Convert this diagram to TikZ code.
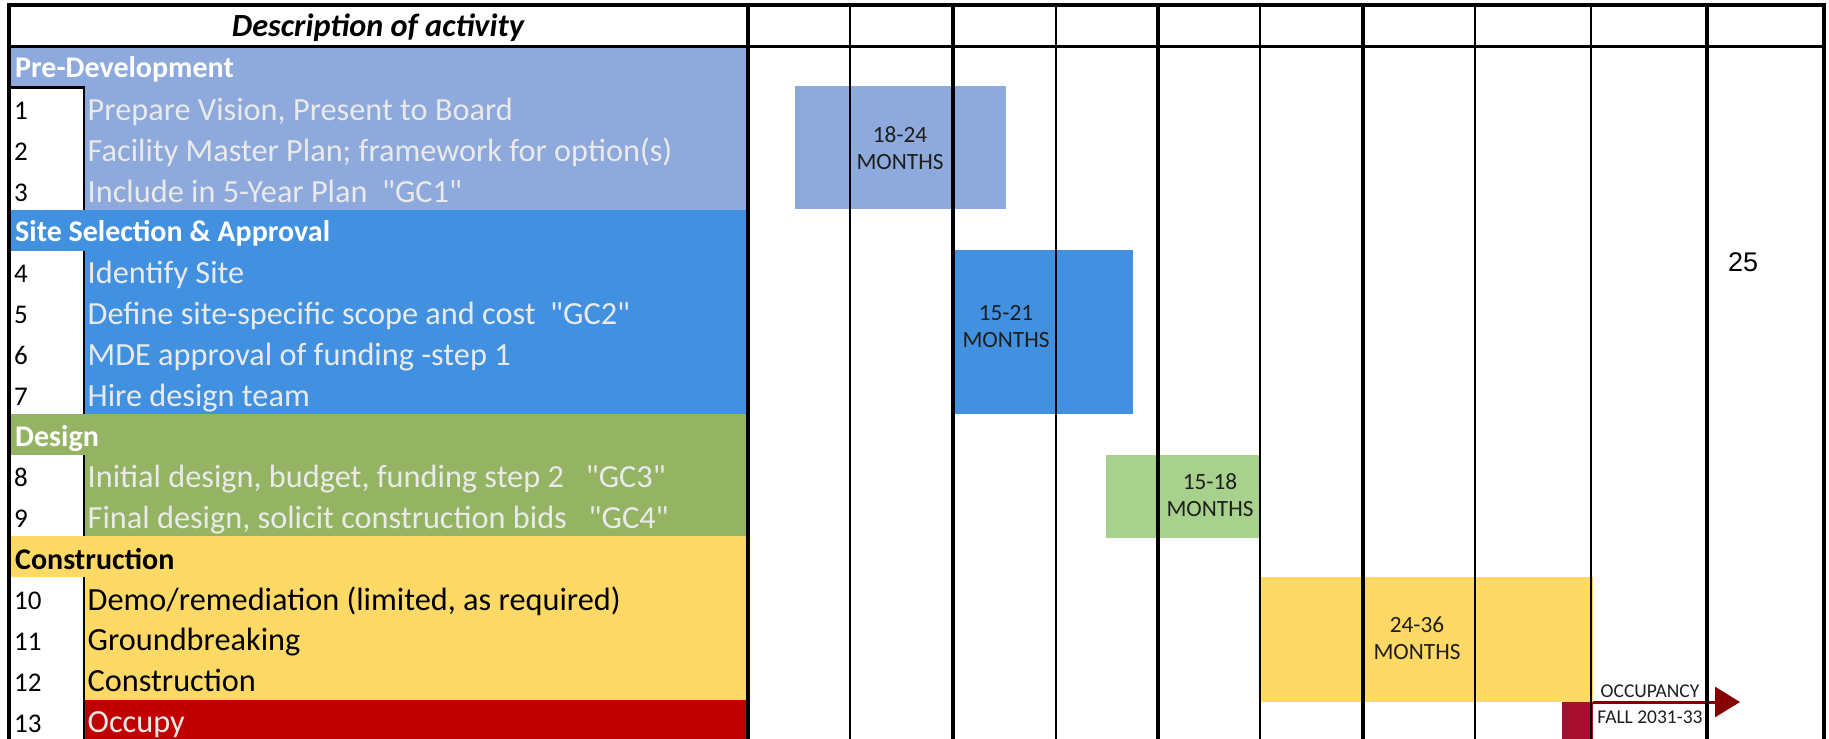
\documentclass[tikz,border=0pt]{standalone}
\usepackage{fontspec}
\setmainfont{Carlito}[Ligatures=TeXOff]
\newfontfamily\arialf{Liberation Sans}
\usetikzlibrary{arrows.meta}
\definecolor{predev}{HTML}{8EA9DB}
\definecolor{sitec}{HTML}{4191E0}
\definecolor{designc}{HTML}{94B463}
\definecolor{designbar}{HTML}{A9D18E}
\definecolor{constr}{HTML}{FFD966}
\definecolor{occupyc}{HTML}{C00000}
\definecolor{occsq}{HTML}{A60F2F}
\definecolor{arrowred}{HTML}{860000}
\definecolor{lighttxt}{HTML}{EAEAEA}
\definecolor{bartxt}{HTML}{1E1E1E}
\tikzset{
  itemtxt/.style={anchor=base west,inner sep=0,font=\fontsize{32.3}{36}\selectfont},
  numtxt/.style={anchor=base west,inner sep=0,font=\fontsize{27}{32}\selectfont,text=black},
  secttxt/.style={anchor=base west,inner sep=0,font=\fontsize{30}{36}\selectfont\bfseries},
  bartext/.style={align=center,inner sep=0,text=bartxt,font=\fontsize{23.3}{27}\selectfont},
  thickgrid/.style={line width=3.5pt,black},
  thingrid/.style={line width=2pt,black},
  numline/.style={line width=2.5pt,black}
}
\begin{document}
\begin{tikzpicture}[x=1pt,y=-1pt]
\useasboundingbox[fill=white] (0,0) rectangle (1829,739);
% section backgrounds
\fill[predev] (9,46.7) rectangle (748,209.9);
\fill[sitec] (9,209.9) rectangle (748,413.9);
\fill[designc] (9,413.9) rectangle (748,536.3);
\fill[constr] (9,536.3) rectangle (748,699.5);
\fill[occupyc] (9,699.5) rectangle (748,740);
% number column boxes
\fill[white] (9,87.5) rectangle (84,209.9);
\fill[white] (9,250.7) rectangle (84,413.9);
\fill[white] (9,454.7) rectangle (84,536.3);
\fill[white] (9,577.1) rectangle (84,740);
% bars
\node[fill=predev,inner sep=0,anchor=north west,minimum width=211pt,minimum height=123pt] (bar1) at (795,86) {};
\node[fill=sitec,inner sep=0,anchor=north west,minimum width=178pt,minimum height=164pt] (bar2) at (955,249.5) {};
\node[fill=designbar,inner sep=0,anchor=north west,minimum width=153pt,minimum height=83pt] (bar3) at (1106,454.5) {};
\node[fill=constr,inner sep=0,anchor=north west,minimum width=334pt,minimum height=125pt] (bar4) at (1259,577) {};
\node[fill=occsq,inner sep=0,anchor=north west,minimum width=31pt,minimum height=38pt] (sq) at (1562,702) {};
% bar labels
\node[bartext] (l1) at (900,148) {18-24\\MONTHS};
\node[bartext] (l2) at (1006,327) {15-21\\MONTHS};
\node[bartext] (l3) at (1210,495) {15-18\\MONTHS};
\node[bartext] (l4) at (1417,638) {24-36\\MONTHS};
\node[align=center,inner sep=0,text=bartxt,font=\fontsize{19.5}{26}\selectfont] (occ) at (1650,704) {OCCUPANCY\\FALL 2031-33};
\coordinate (arrend) at (1740,702);
\draw[arrowred,line width=3pt,-{Triangle[length=25pt,width=30pt]}] (sq.north east) -- (arrend);
% grid lines
\draw[thickgrid] (748,5) -- (748,740);
\draw[thingrid] (850,5) -- (850,740);
\draw[thickgrid] (953,5) -- (953,740);
\draw[thingrid] (1056,5) -- (1056,740);
\draw[thickgrid] (1158,5) -- (1158,740);
\draw[thingrid] (1260,5) -- (1260,740);
\draw[thickgrid] (1363,5) -- (1363,740);
\draw[thingrid] (1475,5) -- (1475,740);
\draw[thingrid] (1591,5) -- (1591,740);
\draw[thickgrid] (1707,5) -- (1707,740);
\draw[thickgrid] (1824,5) -- (1824,740);
\draw[thickgrid] (9,4) -- (9,740);
\draw[thickgrid] (7.25,5) -- (1825.75,5);
\draw[thickgrid] (7.25,46.5) -- (1825.75,46.5);
% number column separators
\draw[numline] (9,87.5) -- (84,87.5) -- (84,209.9);
\draw[numline] (84,250.7) -- (84,413.9);
\draw[numline] (84,454.7) -- (84,536.3);
\draw[numline] (84,577.1) -- (84,740);
% header
\node[anchor=base,inner sep=0,font=\fontsize{32.3}{36}\selectfont\bfseries\itshape] (hdr) at (378,36) {Description of activity};
% sections
\node[secttxt,text=white] (s1) at (15,77.6) {Pre-Development};
\node[secttxt,text=white] (s2) at (15,241.3) {Site Selection \& Approval};
\node[secttxt,text=white] (s3) at (15,446.3) {Design};
\node[secttxt,text=black] (s4) at (15,569.2) {Construction};
% numbers
\node[numtxt] (n1) at (14,119.4) {1};
\node[numtxt] (n2) at (14,160.2) {2};
\node[numtxt] (n3) at (14,201) {3};
\node[numtxt] (n4) at (14,282.6) {4};
\node[numtxt] (n5) at (14,323.4) {5};
\node[numtxt] (n6) at (14,364.2) {6};
\node[numtxt] (n7) at (14,405) {7};
\node[numtxt] (n8) at (14,486.6) {8};
\node[numtxt] (n9) at (14,527.4) {9};
\node[numtxt] (n10) at (14,609.5) {10};
\node[numtxt] (n11) at (14,650.3) {11};
\node[numtxt] (n12) at (14,691.1) {12};
\node[numtxt] (n13) at (14,732.4) {13};
% items
\node[itemtxt,text=lighttxt] (i1) at (87.5,120.4) {Prepare Vision, Present to Board};
\node[itemtxt,text=lighttxt] (i2) at (87.5,161.2) {Facility Master Plan; framework for option(s)};
\node[itemtxt,text=lighttxt] (i3) at (87.5,202) {Include in 5-Year Plan\ \ "GC1"};
\node[itemtxt,text=lighttxt] (i4) at (87.5,283.6) {Identify Site};
\node[itemtxt,text=lighttxt] (i5) at (87.5,324.4) {Define site-specific scope and cost\ \ "GC2"};
\node[itemtxt,text=lighttxt] (i6) at (87.5,365.2) {MDE approval of funding -step 1};
\node[itemtxt,text=lighttxt] (i7) at (87.5,406) {Hire design team};
\node[itemtxt,text=lighttxt] (i8) at (87.5,487.6) {Initial design, budget, funding step 2\ \ \ "GC3"};
\node[itemtxt,text=lighttxt] (i9) at (87.5,528.4) {Final design, solicit construction bids\ \ \ "GC4"};
\node[itemtxt,text=black] (i10) at (87.5,610) {Demo/remediation (limited, as required)};
\node[itemtxt,text=black] (i11) at (87.5,650.8) {Groundbreaking};
\node[itemtxt,text=black] (i12) at (87.5,691.6) {Construction};
\node[itemtxt,text=lighttxt] (i13) at (87.5,732.9) {Occupy};
% 25
\node[inner sep=0,font=\arialf\fontsize{27}{32}\selectfont] (n25) at (1743,262) {25};
\end{tikzpicture}
\end{document}
